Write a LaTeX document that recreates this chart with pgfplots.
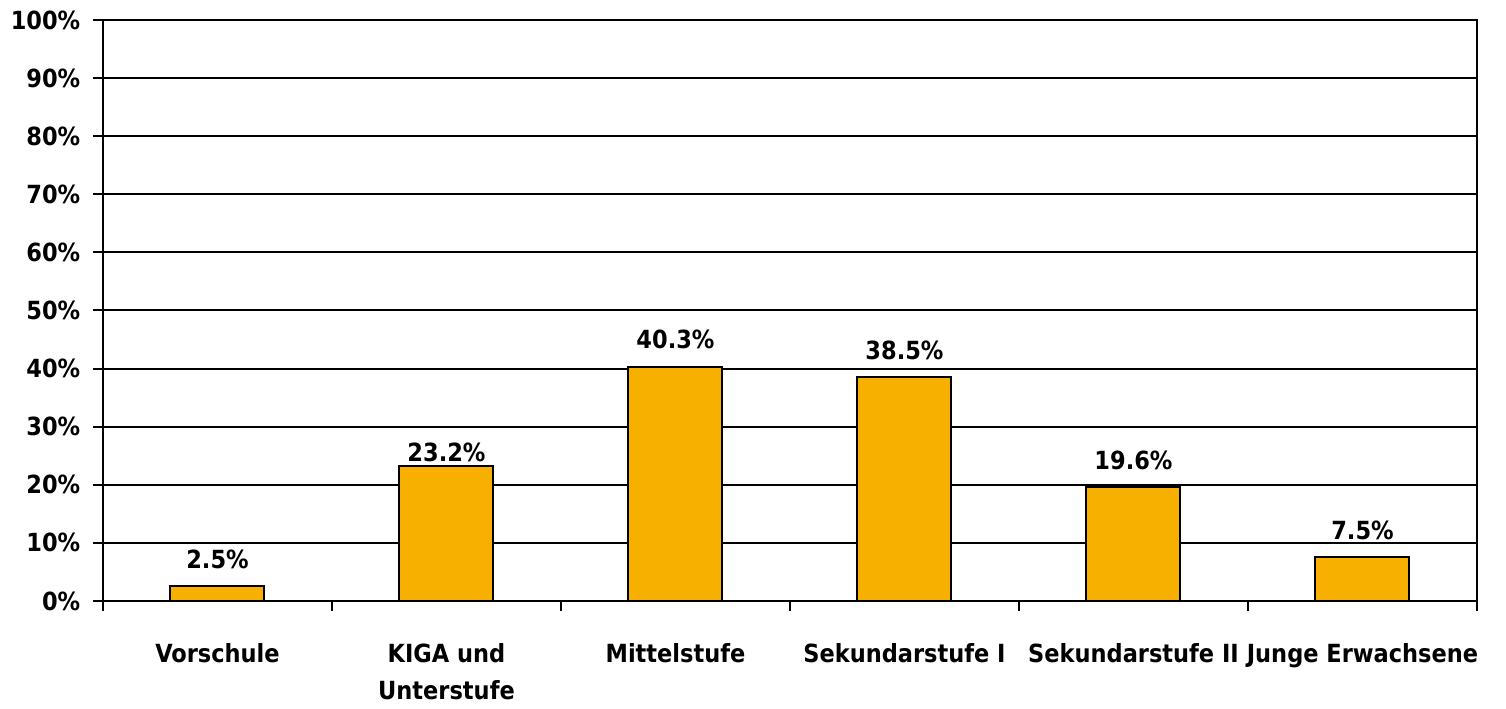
\documentclass[border=0pt]{standalone}
\usepackage{fontspec}
\setmainfont{DejaVu Sans Condensed Bold}
\usepackage{pgfplots}
\pgfplotsset{compat=1.18}
\definecolor{barfill}{HTML}{F8B000}
\begin{document}
\begin{tikzpicture}
\fontsize{12.5}{15}\selectfont
\begin{axis}[
  scale only axis,
  width=687pt, height=290.5pt,
  xmin=-0.5, xmax=5.5,
  ymin=0, ymax=100,
  axis line style={line width=1pt},
  ytick={0,10,...,100},
  yticklabel={\pgfmathprintnumber{\tick}\%},
  ymajorgrids,
  grid style={black, line width=1pt},
  xtick={-0.5,0.5,...,5.5},
  xticklabels={},
  extra x ticks={0,1,2,3,4,5},
  extra x tick labels={Vorschule,{KIGA und\\Unterstufe},Mittelstufe,Sekundarstufe I,Sekundarstufe II,Junge Erwachsene},
  extra x tick style={major tick length=0pt, xticklabel style={align=center, font=\fontsize{12.5}{18.5}\selectfont, yshift=-17pt}},
  tick style={black, line width=1pt},
  major tick length=5pt,
  tick align=outside,
  tick pos=left,
  yticklabel style={font=\fontsize{12.5}{15}\selectfont, xshift=-2pt},
  /pgf/number format/assume math mode=true,
  ybar,
  bar width=47pt,
  visualization depends on=x \as \xval,
  nodes near coords={\pgfmathprintnumber[fixed,precision=1,fixed zerofill,assume math mode=true]{\pgfplotspointmeta}\%},
  every node near coord/.append style={anchor=center, yshift={ifthenelse(\xval==1,7pt,13.5pt)}, font=\fontsize{12.5}{15}\selectfont},
]
\addplot[fill=barfill, draw=black, line width=1pt] coordinates {
(0,2.5) (1,23.2) (2,40.3) (3,38.5) (4,19.6) (5,7.5)
};
\end{axis}
\path[use as bounding box] (-51.5pt,-52.5pt) rectangle (701.5pt,300.5pt);
\end{tikzpicture}
\end{document}
